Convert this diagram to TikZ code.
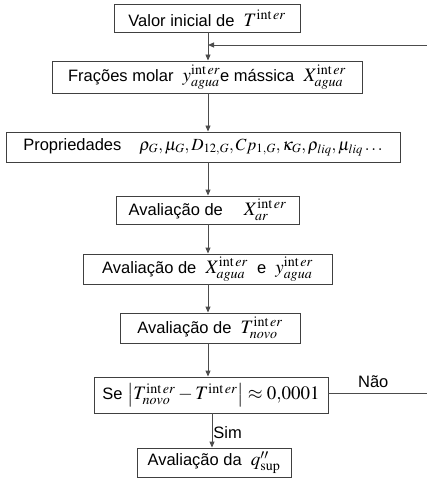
\documentclass[tikz,border=0pt]{standalone}
\usepackage{mathptmx}
\usepackage[no-math]{fontspec}
\setmainfont{Liberation Sans}
\usetikzlibrary{arrows.meta}
\newcommand{\ier}{\mathrm{int}\,er}
\newcommand{\mm}[1]{{\fontsize{19}{22}\selectfont$#1$}}
\newcommand{\ms}[1]{{\fontsize{17}{20}\selectfont$#1$}}
\begin{document}
\begin{tikzpicture}[x=1pt,y=-1pt,
  box/.style={draw=black!75,line width=0.9pt,inner sep=0pt,anchor=center,font=\fontsize{16.5}{19}\selectfont},
  lbl/.style={font=\fontsize{16.5}{19}\selectfont},
  conn/.style={draw=black!70,line width=0.9pt},
  arr/.style={conn,-{Triangle[length=6pt,width=5pt]}}]
\useasboundingbox (0,0) rectangle (427,478);
\node[box,minimum width=186,minimum height=28] (b1) at (207,18) {Valor inicial de \ \mm{T^{\ier}}};
\node[box,minimum width=310,minimum height=32] (b2) at (207,77) {Frações molar \ \mm{y^{\ier}_{agua}}e mássica \ \mm{X^{\ier}_{agua}}};
\node[box,minimum width=394,minimum height=30] (b3) at (203,147) {Propriedades\hspace{18pt}\ms{\rho_G, \mu_G, D_{12,G}, Cp_{1,G}, \kappa_G, \rho_{liq}, \mu_{liq}\ldots}};
\node[box,minimum width=183,minimum height=28] (b4) at (207.5,210) {Avaliação de \quad\mm{X^{\ier}_{ar}}};
\node[box,minimum width=249,minimum height=30] (b5) at (207.5,269) {Avaliação de \ \mm{X^{\ier}_{agua}} \ e \ \mm{y^{\ier}_{agua}}};
\node[box,minimum width=180,minimum height=30] (b6) at (210,328) {Avaliação de \ \mm{T^{\ier}_{novo}}};
\node[box,minimum width=234,minimum height=36] (b7) at (211,395) {Se \mm{\left|T^{\ier}_{novo} - T^{\ier}\right| \approx 0{,}0001}};
\node[box,minimum width=154,minimum height=29] (b8) at (214,462.5) {Avaliação da \ \mm{q''_{\mathrm{sup}}}};
\coordinate (j) at (208,45);
\coordinate (r1) at (428,393);
\coordinate (r2) at (428,45);
\draw[arr] (b1.south -| j) -- (b2.north -| j);
\draw[arr] (b2.south -| j) -- (b3.north -| j);
\draw[arr] (b3.south -| j) -- (b4.north -| j);
\draw[arr] (b4.south -| j) -- (b5.north -| j);
\draw[arr] (b5.south -| j) -- (b6.north -| j);
\draw[arr] (b6.south -| j) -- (b7.north -| j);
\coordinate (s) at (212,0);
\draw[arr] (b7.south -| s) -- node[right,inner sep=1pt,lbl,yshift=-2pt] (sim) {Sim} (b8.north -| s);
\draw[arr] (b7.east |- r1) -- node[above,pos=0.45,lbl,yshift=2pt] (nao) {Não} (r1) -- (r2) -- (j);
\end{tikzpicture}
\end{document}
